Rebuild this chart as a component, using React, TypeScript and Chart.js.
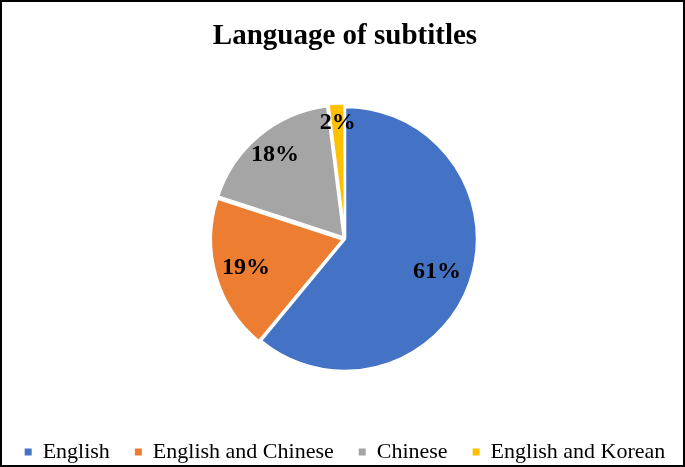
import React, { useEffect, useRef } from "react";
import { Chart, registerables } from "chart.js";

Chart.register(...registerables);

const categories = ["English", "English and Chinese", "Chinese", "English and Korean"];
const values = [61, 19, 18, 2];
const colors = ["#4472C4", "#ED7D31", "#A5A5A5", "#FFC000"];
const sliceOffsets = [0, 8, 8, 8];
const labelRadiusFractions = [0.74, 0.72, 0.77, 0.82];
const titleText = "Language of subtitles";

const sliceLabelPlugin = {
  id: "sliceLabels",
  afterDatasetsDraw(chart: any) {
    const meta = chart.getDatasetMeta(0);
    const ctx = chart.ctx;
    ctx.save();
    ctx.font = 'bold 24px "Liberation Serif"';
    ctx.fillStyle = "#000";
    ctx.textAlign = "center";
    ctx.textBaseline = "middle";
    meta.data.forEach((arc: any, i: number) => {
      const { x, y, startAngle, endAngle, outerRadius } = arc.getProps(
        ["x", "y", "startAngle", "endAngle", "outerRadius"],
        true
      );
      const mid = (startAngle + endAngle) / 2;
      const r = outerRadius * labelRadiusFractions[i] + sliceOffsets[i];
      ctx.fillText(`${values[i]}%`, x + Math.cos(mid) * r, y + Math.sin(mid) * r);
    });
    ctx.restore();
  },
};

export default function App() {
  const canvasRef = useRef<HTMLCanvasElement | null>(null);

  useEffect(() => {
    if (!canvasRef.current) return;
    const ov: any = (Chart as any).overrides;
    const baseGen =
      (ov.pie && ov.pie.plugins && ov.pie.plugins.legend && ov.pie.plugins.legend.labels.generateLabels) ||
      ov.doughnut.plugins.legend.labels.generateLabels;
    const chart = new Chart(canvasRef.current as HTMLCanvasElement, {
      type: "pie",
      data: {
        labels: categories,
        datasets: [
          {
            data: values,
            backgroundColor: colors,
            borderColor: "#ffffff",
            borderWidth: 2.5,
            offset: sliceOffsets,
          },
        ],
      },
      options: {
        animation: false,
        responsive: true,
        maintainAspectRatio: false,
        radius: 132,
        layout: { padding: { left: 5, right: 0, top: 0, bottom: 0 } },
        plugins: {
          title: {
            display: true,
            text: titleText,
            color: "#000",
            font: { family: '"Liberation Serif"', size: 29, weight: "bold" },
            padding: { top: 17, bottom: 8 },
          },
          legend: {
            display: true,
            position: "bottom",
            labels: {
              color: "#000",
              font: { family: '"Liberation Serif"', size: 22 },
              boxWidth: 7,
              boxHeight: 7,
              padding: 25,
              generateLabels: (c: any) =>
                baseGen(c).map((l: any) => ({ ...l, lineWidth: 0, strokeStyle: "rgba(0,0,0,0)" })),
            },
          },
          tooltip: { enabled: false },
        },
      } as any,
      plugins: [sliceLabelPlugin],
    });
    return () => chart.destroy();
  }, []);

  return (
    <div
      style={{
        position: "fixed",
        left: 0,
        top: 0,
        width: 685,
        height: 467,
        boxSizing: "border-box",
        border: "2px solid #000",
        background: "#fff",
        overflow: "hidden",
      }}
    >
      <div style={{ position: "absolute", left: -12, top: 0, width: 705, height: 471 }}>
        <canvas ref={canvasRef} />
      </div>
    </div>
  );
}
